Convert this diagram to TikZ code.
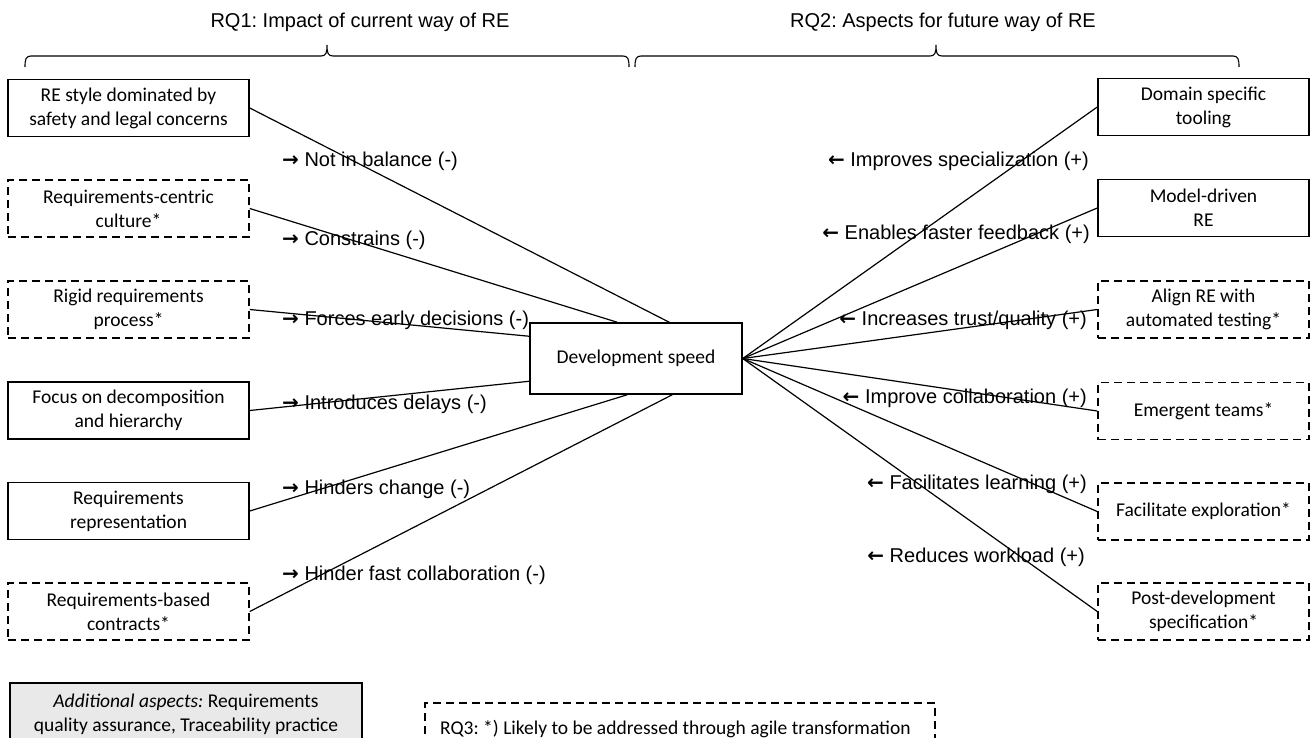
\documentclass[tikz,border=0pt]{standalone}
\usepackage{fontspec}
\setmainfont{Liberation Sans}
\newfontfamily\boxfont{Carlito}
\newfontfamily\arrfont{DejaVu Sans}
\newcommand{\ra}{{\arrfont\bfseries →}}
\newcommand{\la}{{\arrfont\bfseries ←}}
\usetikzlibrary{calc}
\begin{document}
\frenchspacing
\begin{tikzpicture}[x=1pt,y=-1pt,
  lbl/.style={font=\fontsize{20}{23}\selectfont, inner sep=0pt},
  cbox/.style={draw, line width=1.5pt, align=center, inner sep=0pt,
               font=\boxfont\fontsize{19.5}{24}\selectfont},
  lbox/.style={cbox, minimum width=241pt, minimum height=57pt},
  rbox/.style={cbox, minimum width=211pt, minimum height=57pt},
  dsh/.style={dash pattern=on 8pt off 5pt},
  conn/.style={line width=1.2pt},
  brc/.style={line width=1.1pt}]
\useasboundingbox (0,0) rectangle (1314,737);
\clip (0,0) rectangle (1314,737);

% titles
\node[lbl] (rq1) at (360,22) {RQ1: Impact of current way of RE};
\node[lbl] (rq2) at (943,22) {RQ2: Aspects for future way of RE};

% braces
\draw[brc] (25,67) .. controls (25,59) and (26,56) .. (31,56) -- (321,56)
  .. controls (326,56) and (327,53) .. (327,45)
  .. controls (327,53) and (328,56) .. (333,56) -- (623,56)
  .. controls (628,56) and (629,59) .. (629,67);
\draw[brc] (635,67) .. controls (635,59) and (636,56) .. (641,56) -- (930,56)
  .. controls (935,56) and (936,53) .. (936,45)
  .. controls (936,53) and (937,56) .. (942,56) -- (1233,56)
  .. controls (1238,56) and (1239,59) .. (1239,67);

% center
\node[cbox, minimum width=212pt, minimum height=71pt] (dev) at (636,358.5) {Development speed};

% left boxes
\node[lbox] (l1) at (128.5,108) {RE style dominated by\\safety and legal concerns};
\node[lbox, dsh] (l2) at (128.5,208.5) {Requirements-centric\\culture*};
\node[lbox, dsh] (l3) at (128.5,309.5) {Rigid requirements\\process*};
\node[lbox] (l4) at (128.5,410.5) {Focus on decomposition\\and hierarchy};
\node[lbox] (l5) at (128.5,511) {Requirements\\representation};
\node[lbox, dsh] (l6) at (128.5,611.5) {Requirements-based\\contracts*};

% right boxes
\node[rbox] (r1) at (1203.5,107) {Domain specific\\tooling};
\node[rbox] (r2) at (1203.5,208) {Model-driven\\RE};
\node[rbox, dsh] (r3) at (1203.5,309.5) {Align RE with\\automated testing*};
\node[rbox, dsh] (r4) at (1203.5,411) {Emergent teams*};
\node[rbox, dsh] (r5) at (1203.5,511.5) {Facilitate exploration*};
\node[rbox, dsh] (r6) at (1203.5,611.5) {Post-development\\specification*};

% left connectors
\draw[conn] (l1.east) -- ([xshift=140pt]dev.north west);
\draw[conn] (l2.east) -- ([xshift=88pt]dev.north west);
\draw[conn] (l3.east) -- ([yshift=-14pt]dev.north west);
\draw[conn] (l4.east) -- ([yshift=-59pt]dev.north west);
\draw[conn] (l5.east) -- ([xshift=98pt]dev.south west);
\draw[conn] (l6.east) -- ([xshift=143pt]dev.south west);

% right connectors
\foreach \r in {r1,r2,r3,r4,r5,r6} \draw[conn] (dev.east) -- (\r.west);

% left labels
\node[lbl, anchor=west] (a1) at (282,161) {\ra\ Not in balance (-)};
\node[lbl, anchor=west] (a2) at (282,240) {\ra\ Constrains (-)};
\node[lbl, anchor=west] (a3) at (282,320) {\ra\ Forces early decisions (-)};
\node[lbl, anchor=west] (a4) at (282,404) {\ra\ Introduces delays (-)};
\node[lbl, anchor=west] (a5) at (282,489) {\ra\ Hinders change (-)};
\node[lbl, anchor=west] (a6) at (282,575) {\ra\ Hinder fast collaboration (-)};

% right labels
\node[lbl, anchor=east] (b1) at (1089,161) {\la\ Improves specialization (+)};
\node[lbl, anchor=east] (b2) at (1090,234) {\la\ Enables faster feedback (+)};
\node[lbl, anchor=east] (b3) at (1087,320) {\la\ Increases trust/quality (+)};
\node[lbl, anchor=east] (b4) at (1087,398) {\la\ Improve collaboration (+)};
\node[lbl, anchor=east] (b5) at (1087,484) {\la\ Facilitates learning (+)};
\node[lbl, anchor=east] (b6) at (1085,557) {\la\ Reduces workload (+)};

% bottom (cut off by the lower edge of the figure)
\node[cbox, fill=gray!17, minimum width=352pt, minimum height=62pt] (add) at (186,714)
  {\textit{Additional aspects:} Requirements\\quality assurance, Traceability practice};
\draw[line width=1.2pt, dsh] (425,760) -- (425,703) -- (935,703) -- (935,760);
\node[anchor=west, inner sep=0pt, font=\boxfont\fontsize{19.5}{24}\selectfont] (rq3) at (440,729)
  {RQ3: *) Likely to be addressed through agile transformation};
\end{tikzpicture}
\end{document}
